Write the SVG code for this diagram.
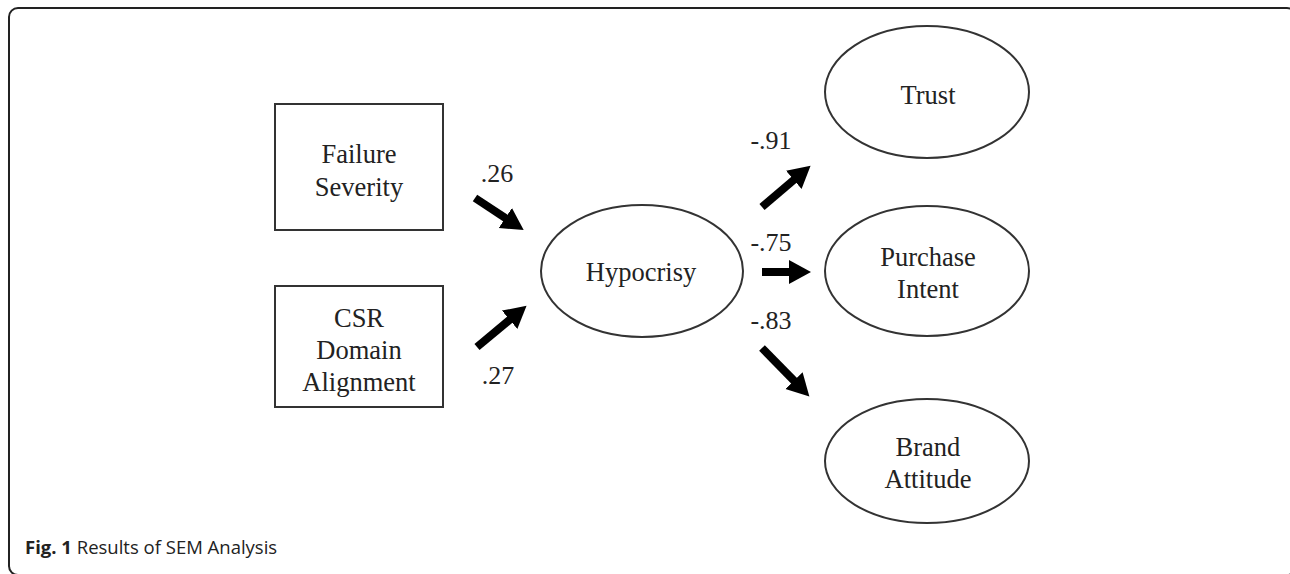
<svg xmlns="http://www.w3.org/2000/svg" width="1290" height="574" viewBox="0 0 1290 574">
<style>
.box{fill:#fff;stroke:#333;stroke-width:2}
.ell{fill:#fff;stroke:#333;stroke-width:2}
.t{font-family:"Liberation Serif","Times New Roman",serif;font-size:26.5px;fill:#222;text-anchor:middle}
.lab{font-family:"Liberation Serif","Times New Roman",serif;font-size:26px;fill:#222;text-anchor:middle}
.arr{stroke:#000;stroke-width:8;fill:none;marker-end:url(#ah)}
.cap{font-family:"Open Sans","Noto Sans",sans-serif;font-size:18.5px;fill:#222}
</style>
<defs>
<marker id="ah" markerUnits="userSpaceOnUse" markerWidth="24" markerHeight="26" refX="8" refY="12" orient="auto" viewBox="0 0 24 26">
<path d="M0,0 L22,12 L0,24 z" fill="#000"/>
</marker>
</defs>
<rect x="9" y="8" width="1287" height="567" rx="9" fill="#fff" stroke="#222" stroke-width="2"/>
<g id="failure-severity">
<rect class="box" x="275" y="104" width="168" height="126"/>
<text class="t" x="359" y="163">Failure</text>
<text class="t" x="359" y="196">Severity</text>
</g>
<g id="csr-domain-alignment">
<rect class="box" x="275" y="286" width="168" height="121"/>
<text class="t" x="359" y="327">CSR</text>
<text class="t" x="359" y="359">Domain</text>
<text class="t" x="359" y="391">Alignment</text>
</g>
<g id="hypocrisy">
<ellipse class="ell" cx="642" cy="271" rx="101" ry="66"/>
<text class="t" x="641" y="281">Hypocrisy</text>
</g>
<g id="trust">
<ellipse class="ell" cx="927" cy="92" rx="102" ry="66"/>
<text class="t" x="928" y="104">Trust</text>
</g>
<g id="purchase-intent">
<ellipse class="ell" cx="927" cy="271" rx="102" ry="65"/>
<text class="t" x="928" y="266">Purchase</text>
<text class="t" x="928" y="298">Intent</text>
</g>
<g id="brand-attitude">
<ellipse class="ell" cx="927" cy="461" rx="102" ry="62"/>
<text class="t" x="928" y="456">Brand</text>
<text class="t" x="928" y="488">Attitude</text>
</g>
<g id="connectors">
<line class="arr" x1="475" y1="198" x2="512" y2="222.4"/>
<line class="arr" x1="477" y1="347" x2="515.8" y2="314.7"/>
<line class="arr" x1="762" y1="207" x2="799.9" y2="174.8"/>
<line class="arr" x1="762" y1="272" x2="797" y2="272"/>
<line class="arr" x1="762" y1="348" x2="799.6" y2="386.4"/>
<text class="lab" x="497" y="182">.26</text>
<text class="lab" x="498" y="384">.27</text>
<text class="lab" x="771" y="149">-.91</text>
<text class="lab" x="771" y="251">-.75</text>
<text class="lab" x="771" y="329">-.83</text>
</g>
<text class="cap" x="25" y="554"><tspan font-weight="bold">Fig. 1</tspan> Results of SEM Analysis</text>
</svg>
